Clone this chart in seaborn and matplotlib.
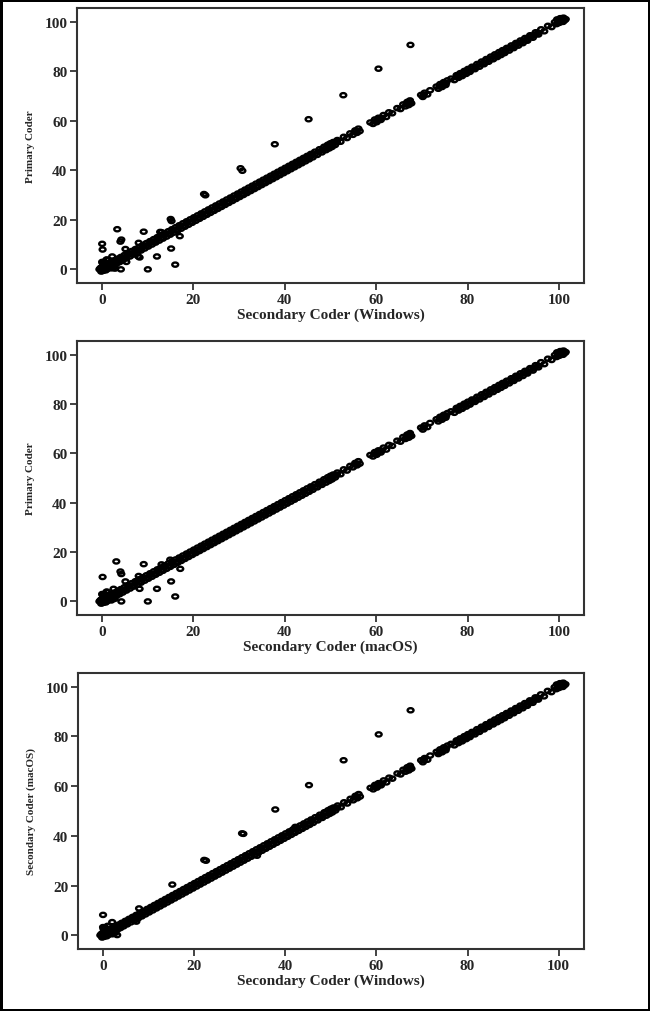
import numpy as np
import pandas as pd
import matplotlib
matplotlib.use("Agg")
import matplotlib.pyplot as plt
import seaborn as sns
from matplotlib.path import Path

# shared agreement band (points along the diagonal)
diag_x = [
    -0.4, -0.2, 0.0, 0.1, 0.3, 0.5, 0.7, 0.9, 1.1, 1.4, 1.6, 1.9, 2.2, 2.5, 2.8, 3.1, 3.4, 3.8, 4.1, 4.5,
    4.9, 5.3, 5.7, 6.1, 6.5, 6.9, 7.3, 7.7, 8.1, 8.5, 8.9, 9.3, 9.7, 10.1, 10.5, 10.9, 11.3, 11.7, 12.1, 12.5,
    12.9, 13.3, 13.7, 14.1, 14.5, 14.9, 15.3, 15.7, 16.1, 16.5, 16.9, 17.3, 17.7, 18.1, 18.5, 18.9, 19.3, 19.7, 20.1, 20.5,
    20.9, 21.3, 21.7, 22.1, 22.5, 22.9, 23.3, 23.7, 24.1, 24.5, 24.9, 25.3, 25.7, 26.1, 26.5, 26.9, 27.3, 27.7, 28.1, 28.5,
    28.9, 29.3, 29.7, 30.1, 30.5, 30.9, 31.3, 31.7, 32.1, 32.5, 32.9, 33.3, 33.7, 34.1, 34.5, 34.9, 35.3, 35.7, 36.1, 36.5,
    36.9, 37.3, 37.7, 38.1, 38.5, 38.9, 39.3, 39.7, 40.1, 40.5, 40.9, 41.3, 41.7, 42.1, 42.5, 42.9, 43.3, 43.7, 44.1, 44.5,
    44.9, 45.3, 45.7, 46.1, 46.6, 47.1, 47.6, 48.1, 48.6, 49.0, 49.4, 49.7, 50.0, 50.3, 50.6, 51.0, 51.5, 52.2, 52.9, 53.6,
    54.3, 54.9, 55.4, 55.8, 56.1, 56.4, 58.7, 59.3, 59.7, 60.1, 60.5, 61.0, 61.6, 62.2, 62.8, 63.5, 64.6, 65.3, 65.9, 66.4,
    66.8, 67.1, 67.4, 67.7, 69.8, 70.2, 70.6, 71.2, 71.8, 73.2, 73.6, 74.0, 74.4, 74.8, 75.2, 75.6, 76.4, 77.1, 77.6, 78.0,
    78.4, 78.8, 79.3, 79.7, 80.1, 80.5, 81.0, 81.6, 82.1, 82.6, 83.1, 83.6, 84.1, 84.6, 85.1, 85.6, 86.0, 86.5, 86.9, 87.3,
    87.7, 88.1, 88.6, 89.1, 89.6, 90.1, 90.6, 91.1, 91.6, 92.1, 92.6, 93.1, 93.7, 94.3, 94.9, 95.5, 96.1, 96.8, 97.6, 98.4,
    99.1, 99.5, 99.8, 100.1, 100.4, 100.7, 101.0, 101.3, 99.6, 100.3, 100.9, 101.5]
diag_y = [
    0.4, -0.9, 0.9, -0.6, 1.2, -0.3, 1.6, 0.0, 2.0, 0.5, 2.5, 1.0, 3.0, 1.6, 3.6, 2.2, 4.3, 2.9, 5.0, 3.6,
    5.8, 4.4, 6.6, 5.2, 7.4, 6.0, 8.2, 6.8, 9.0, 7.6, 9.8, 8.4, 10.6, 9.2, 11.4, 10.0, 12.2, 10.8, 13.0, 11.6,
    13.8, 12.4, 14.6, 13.2, 15.4, 14.0, 16.2, 14.8, 17.0, 15.6, 17.8, 16.4, 18.6, 17.2, 19.4, 18.0, 20.2, 18.8, 21.0, 19.6,
    21.8, 20.4, 22.6, 21.2, 23.4, 22.0, 24.2, 22.8, 25.0, 23.6, 25.8, 24.4, 26.6, 25.2, 27.4, 26.0, 28.2, 26.8, 29.0, 27.6,
    29.8, 28.4, 30.6, 29.2, 31.4, 30.0, 32.2, 30.8, 33.0, 31.6, 33.8, 32.4, 34.6, 33.2, 35.4, 34.0, 36.2, 34.8, 37.0, 35.6,
    37.8, 36.4, 38.6, 37.2, 39.4, 38.0, 40.2, 38.8, 41.0, 39.6, 41.8, 40.4, 42.6, 41.2, 43.4, 42.0, 44.2, 42.8, 45.0, 43.6,
    45.8, 44.4, 46.6, 45.2, 47.5, 46.2, 48.5, 47.2, 49.5, 48.1, 50.3, 48.8, 50.9, 49.4, 51.4, 50.2, 52.2, 51.5, 53.5, 53.0,
    54.9, 54.3, 56.1, 55.1, 56.8, 55.8, 59.3, 58.7, 60.5, 59.4, 61.2, 60.3, 62.3, 61.5, 63.4, 63.0, 65.1, 64.7, 66.6, 65.8,
    67.6, 66.3, 68.2, 67.0, 70.4, 69.6, 71.3, 70.6, 72.3, 73.8, 72.9, 74.8, 73.6, 75.6, 74.4, 76.3, 77.0, 76.4, 78.4, 77.3,
    79.2, 78.0, 80.1, 78.9, 80.9, 79.7, 81.8, 80.8, 82.9, 81.8, 83.9, 82.8, 84.9, 83.8, 85.9, 84.8, 86.8, 85.7, 87.7, 86.5,
    88.5, 87.3, 89.4, 88.3, 90.4, 89.3, 91.4, 90.3, 92.4, 91.3, 93.4, 92.3, 94.5, 93.5, 95.7, 94.8, 96.9, 96.1, 98.3, 97.8,
    99.8, 99.0, 100.6, 99.5, 101.2, 100.0, 101.6, 100.6, 100.9, 101.4, 99.9, 101.0]

# points lying right on the diagonal (fill the middle of the band)
band2_x = [
    0.2, 1.0, 1.8, 2.6, 3.4, 4.2, 5.0, 5.8, 6.6, 7.4, 8.2, 9.0, 9.8, 10.6, 11.4, 12.2, 13.0, 13.8, 14.6, 15.4,
    16.2, 17.0, 17.8, 18.6, 19.4, 20.2, 21.0, 21.8, 22.6, 23.4, 24.2, 25.0, 25.8, 26.6, 27.4, 28.2, 29.0, 29.8, 30.6, 31.4,
    32.2, 33.0, 33.8, 34.6, 35.4, 36.2, 37.0, 37.8, 38.6, 39.4, 40.2, 41.0, 41.8, 42.6, 43.4, 44.2, 45.0, 45.8, 46.6, 47.4,
    48.2, 49.0, 49.8, 50.6, 51.4, 55.6, 59.8, 60.4, 61.2, 66.6, 67.5, 70.4, 73.9, 74.6, 75.3, 77.8, 78.6, 79.4, 80.2, 81.0,
    81.8, 82.6, 83.4, 84.2, 85.0, 85.8, 86.6, 87.4, 88.2, 89.0, 89.8, 90.6, 91.4, 92.2, 93.0, 93.8, 94.6, 95.4, 100.0, 100.8]
band2_y = [
    0.1, 1.1, 1.7, 2.7, 3.3, 4.3, 4.9, 5.9, 6.5, 7.5, 8.1, 9.1, 9.7, 10.7, 11.3, 12.3, 12.9, 13.9, 14.5, 15.5,
    16.1, 17.1, 17.7, 18.7, 19.3, 20.3, 20.9, 21.9, 22.5, 23.5, 24.1, 25.1, 25.7, 26.7, 27.3, 28.3, 28.9, 29.9, 30.5, 31.5,
    32.1, 33.1, 33.7, 34.7, 35.3, 36.3, 36.9, 37.9, 38.5, 39.5, 40.1, 41.1, 41.7, 42.7, 43.3, 44.3, 44.9, 45.9, 46.5, 47.5,
    48.1, 49.1, 49.7, 50.7, 51.3, 55.7, 59.7, 60.5, 61.1, 66.7, 67.4, 70.5, 73.8, 74.7, 75.2, 77.9, 78.5, 79.5, 80.1, 81.1,
    81.7, 82.7, 83.3, 84.3, 84.9, 85.9, 86.5, 87.5, 88.1, 89.1, 89.7, 90.7, 91.3, 92.3, 92.9, 93.9, 94.5, 95.5, 100.1, 100.7]

# cluster near the origin
blob_x = [-0.6, -0.3, 0.0, 0.2, 0.4, 0.6, 0.9, 1.2, 0.1, 0.5, 1.0, 1.5, 2.0, 2.4, 0.0, 0.8, 1.8, 2.7]
blob_y = [0.0, 0.6, 1.0, -0.5, 1.5, -0.2, 2.0, 0.3, 2.6, 3.1, 3.8, 1.2, 0.4, 3.3, 0.0, -0.4, 2.2, 1.0]

# disagreements, panel 1 (Windows vs primary)
p1_out_x = [67.5, 60.5, 52.8, 45.2, 37.8, 30.3, 30.7, 22.3, 22.6, 15.0, 15.2, 3.3, 9.1, 0.0, 0.1, 4.2, 4.0,
            5.1, 8.0, 7.9, 8.2, 10.0, 12.0, 15.1, 16.0, 17.0, 12.7, 4.1, 2.2, 0.0, 1.0, 2.8, 5.3, 13.0]
p1_out_y = [90.6, 81.0, 70.3, 60.6, 50.5, 40.8, 39.8, 30.4, 29.9, 20.3, 19.5, 16.2, 15.2, 10.3, 8.0, 12.0, 11.2,
            8.2, 10.7, 5.2, 4.8, 0.0, 5.2, 8.4, 1.9, 13.4, 15.1, 0.0, 5.2, 3.0, 4.0, 0.3, 3.0, 15.0]

# panel 2 (macOS vs primary)
p2_out_x = [3.1, 9.1, 0.1, 4.0, 4.2, 5.1, 8.0, 8.2, 10.0, 12.0, 15.1, 16.0, 17.1, 14.9, 4.2, 2.5, 2.9, 0.0, 1.0, 13.0]
p2_out_y = [16.2, 15.1, 9.9, 12.1, 11.1, 8.1, 10.3, 5.1, 0.0, 5.1, 8.1, 2.0, 13.2, 16.9, 0.0, 5.1, 2.8, 3.0, 4.0, 15.0]

# panel 3 (Windows vs macOS)
p3_out_x = [67.5, 60.5, 52.8, 45.2, 37.8, 30.5, 30.8, 22.2, 22.6, 15.2, 0.0, 2.0, 0.0, 3.1, 7.9, 7.3, 33.8, 42.2]
p3_out_y = [90.5, 80.8, 70.4, 60.4, 50.6, 41.0, 40.8, 30.3, 30.0, 20.4, 8.2, 5.3, 3.3, 0.1, 10.8, 5.5, 32.0, 43.6]

panels = [
    (p1_out_x, p1_out_y, "Secondary Coder (Windows)", "Primary Coder"),
    (p2_out_x, p2_out_y, "Secondary Coder (macOS)", "Primary Coder"),
    (p3_out_x, p3_out_y, "Secondary Coder (Windows)", "Secondary Coder (macOS)"),
]
ticks = [0, 20, 40, 60, 80, 100]

sns.set_style("ticks")
plt.rcParams["font.family"] = ["Liberation Serif", "DejaVu Serif"]
plt.rcParams["font.weight"] = "bold"

# circles in the source are slightly squashed
circ = Path.unit_circle()
ell = Path(circ.vertices * np.array([1.4, 1.0]), circ.codes)

fig = plt.figure(figsize=(6.5, 10.12), dpi=100, linewidth=2.5, edgecolor="black")
boxes = [
    [0.1185, 0.7194, 0.780, 0.2717],
    [0.1185, 0.3913, 0.780, 0.2708],
    [0.1200, 0.0613, 0.778, 0.2727],
]

for (ox, oy, xl, yl), box in zip(panels, boxes):
    ax = fig.add_axes(box)
    df = pd.DataFrame({"x": diag_x + band2_x + blob_x + ox,
                       "y": diag_y + band2_y + blob_y + oy})
    sns.scatterplot(data=df, x="x", y="y", ax=ax, marker=ell, s=18,
                    color="black", facecolor="none", edgecolor="black", linewidth=1.7)
    ax.set_xlim(-5.5, 105.5)
    ax.set_ylim(-5.5, 105.5)
    ax.set_xticks(ticks)
    ax.set_yticks(ticks)
    ax.tick_params(direction="out", length=5, width=1.2, labelsize=11, color="#222222", pad=2)
    for lab in ax.get_xticklabels() + ax.get_yticklabels():
        lab.set_fontweight("bold")
    for sp in ax.spines.values():
        sp.set_visible(True)
        sp.set_linewidth(1.5)
        sp.set_color("#333333")
    ax.set_xlabel(xl, fontsize=11, fontweight="bold", labelpad=1)
    ax.set_ylabel(yl, fontsize=8, fontweight="bold", labelpad=7)

fig.savefig("out.png", dpi=100)
